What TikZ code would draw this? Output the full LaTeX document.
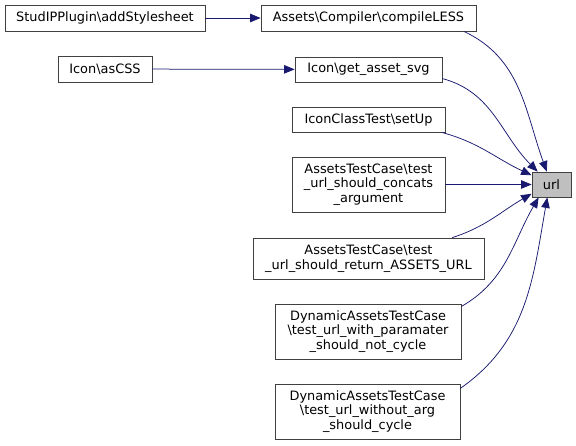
\documentclass[tikz,border=0pt]{standalone}
\usepackage{fontspec}
\setmainfont{DejaVu Sans}
\usetikzlibrary{arrows.meta,positioning,calc}
\usepackage{xcolor}
\definecolor{edge}{HTML}{191970}
\definecolor{frame}{HTML}{404040}
\definecolor{rootfill}{HTML}{BFBFBF}
\newcommand{\bs}{\textbackslash}
\tikzset{
  x=1pt,y=-1pt,
  every node/.style={font=\fontsize{12.9}{14.5}\selectfont,text=black},
  fnbox/.style={draw=frame,fill=white,align=center,inner sep=2pt,line width=0.8pt},
  rootbox/.style={fnbox,fill=rootfill},
  callarr/.style={-{Triangle[length=10.5pt,width=8.5pt,fill=edge]},draw=edge,line width=0.75pt},
}
\begin{document}
\begin{tikzpicture}
\useasboundingbox (0,0) rectangle (576,445);

\node[fnbox,minimum width=200,minimum height=26] (addStylesheet) at (105,18) {StudIPPlugin\bs addStylesheet};
\node[fnbox,minimum width=215,minimum height=26] (compileLESS) at (368.5,18) {Assets\bs Compiler\bs compileLESS};
\node[fnbox,minimum width=94,minimum height=26] (asCSS) at (105,69) {Icon\bs asCSS};
\node[fnbox,minimum width=147,minimum height=25] (getAssetSvg) at (368.5,69.5) {Icon\bs get\_asset\_svg};
\node[fnbox,minimum width=153,minimum height=25] (setUp) at (368.5,119.5) {IconClassTest\bs setUp};
\node[fnbox,minimum width=153,minimum height=55] (concats) at (368.5,184.5) {AssetsTestCase\bs test\\\_url\_should\_concats\\\_argument};
\node[fnbox,minimum width=231,minimum height=41] (returnUrl) at (368.5,258.5) {AssetsTestCase\bs test\\\_url\_should\_return\_ASSETS\_URL};
\node[fnbox,minimum width=186,minimum height=55] (withParam) at (368,331.5) {DynamicAssetsTestCase\\\bs test\_url\_with\_paramater\\\_should\_not\_cycle};
\node[fnbox,minimum width=185,minimum height=55] (withoutArg) at (367.5,411.5) {DynamicAssetsTestCase\\\bs test\_url\_without\_arg\\\_should\_cycle};
\node[rootbox,minimum width=39,minimum height=25] (url) at (551.5,184.5) {url};

\draw[callarr] (addStylesheet) -- (compileLESS);
\draw[callarr] (asCSS) -- (getAssetSvg);
\draw[callarr] (compileLESS.-8) to[out=-25,in=110] (url.110);
\draw[callarr] (getAssetSvg.-7) to[out=-15,in=135] (url.137);
\draw[callarr] (setUp.-10) to[out=-15,in=155] (url.155);
\draw[callarr] (concats) -- (url);
\draw[callarr] (returnUrl.14) to[out=18,in=210] (url.205);
\draw[callarr] (withParam.15) to[out=30,in=240] (url.225);
\draw[callarr] (withoutArg.14) to[out=35,in=260] (url.252);

\end{tikzpicture}
\end{document}
